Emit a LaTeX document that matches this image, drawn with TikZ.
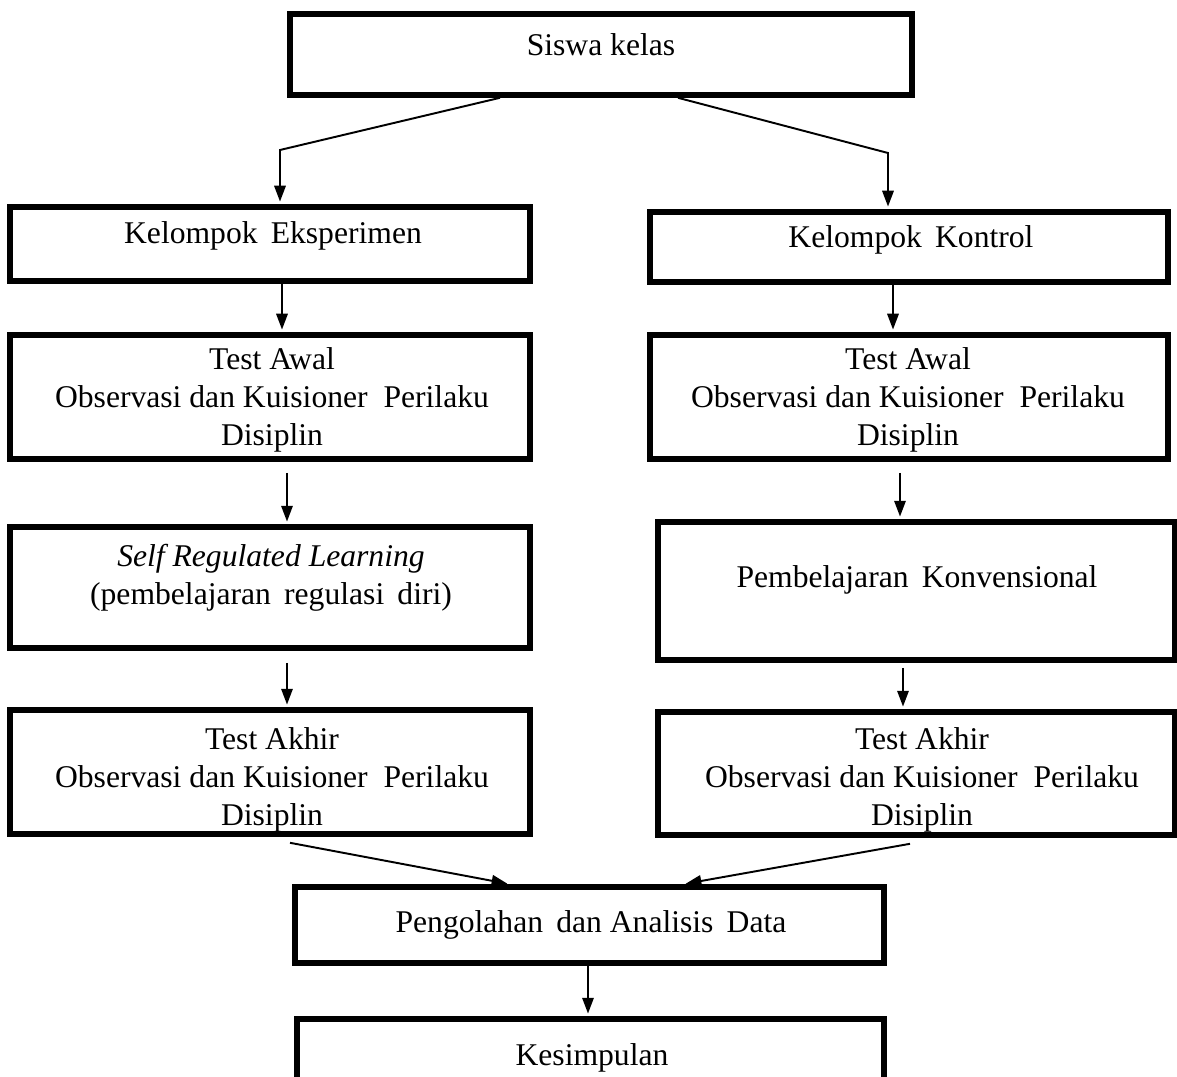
\documentclass[tikz,border=0pt]{standalone}
\usepackage{fontspec}
\setmainfont{Liberation Serif}
\usetikzlibrary{calc,arrows.meta,positioning}

\begin{document}
\begin{tikzpicture}[x=0.02cm, y=-0.02cm, >={Triangle[length=9pt,width=6.5pt]},
		kotak/.style={draw, line width=3.2pt, inner sep=0pt},
		teks/.style={align=center, inner sep=0pt, font=\fontsize{18}{21.6}\selectfont},
		panah/.style={->, line width=1.1pt, shorten >=1.5pt}]
		\useasboundingbox (0,0) rectangle (1177,1077);

		% Kotak-kotak
		\node[kotak, minimum width=12.44cm, minimum height=1.62cm] (siswa) at (601,54.5) {};
		\node[kotak, minimum width=10.4cm, minimum height=1.48cm] (eks) at (270,244) {};
		\node[kotak, minimum width=10.36cm, minimum height=1.4cm] (kontrol) at (909,247) {};
		\node[kotak, minimum width=10.4cm, minimum height=2.48cm] (awalL) at (270,397) {};
		\node[kotak, minimum width=10.36cm, minimum height=2.48cm] (awalR) at (909,397) {};
		\node[kotak, minimum width=10.4cm, minimum height=2.42cm] (srl) at (270,587.5) {};
		\node[kotak, minimum width=10.34cm, minimum height=2.76cm] (konv) at (916.5,591) {};
		\node[kotak, minimum width=10.4cm, minimum height=2.48cm] (akhirL) at (270,772) {};
		\node[kotak, minimum width=10.34cm, minimum height=2.46cm] (akhirR) at (916.5,773.5) {};
		\node[kotak, minimum width=11.78cm, minimum height=1.52cm] (olah) at (589.5,925) {};
		\node[kotak, minimum width=11.74cm, minimum height=1.82cm] (simpul) at (590.5,1064.5) {};

		% Teks
		\node[teks] (siswa-t) at (601,45) {Siswa kelas};
		\node[teks] (eks-t) at (273,236) {Kelompok\ \,Eksperimen};
		\node[teks] (kontrol-t) at (911,240) {Kelompok\ \,Kontrol};
		\node[teks] (awalL-t) at (272,400) {Test Awal\\Observasi dan Kuisioner\ \ Perilaku\\Disiplin};
		\node[teks] (awalR-t) at (908,400) {Test Awal\\Observasi dan Kuisioner\ \ Perilaku\\Disiplin};
		\node[teks] (srl-t) at (271,577.5) {\textit{Self Regulated Learning}\\(pembelajaran\ \,regulasi\ \,diri)};
		\node[teks] (konv-t) at (917,580) {Pembelajaran\ \,Konvensional};
		\node[teks] (akhirL-t) at (272,780) {Test Akhir\\Observasi dan Kuisioner\ \ Perilaku\\Disiplin};
		\node[teks] (akhirR-t) at (922,780) {Test Akhir\\Observasi dan Kuisioner\ \ Perilaku\\Disiplin};
		\node[teks] (olah-t) at (591,925) {Pengolahan\ \,dan Analisis\ \,Data};
		\node[teks] (simpul-t) at (592,1058) {Kesimpulan};

		% Titik tekuk
		\coordinate (tekukL) at (280,150);
		\coordinate (tekukR) at (888,153);

		% Panah
		\draw[panah] ($(siswa.south)+(-101,0)$) -- (tekukL) -- (tekukL |- eks.north);
		\draw[panah] ($(siswa.south)+(77,0)$) -- (tekukR) -- (tekukR |- kontrol.north);
		\draw[panah] ($(eks.south)+(12,0)$) coordinate (p1) -- (p1 |- awalL.north);
		\draw[panah] ($(kontrol.south)+(-16,0)$) coordinate (p2) -- (p2 |- awalR.north);
		\draw[panah] ($(awalL.south)+(17,11)$) coordinate (p3) -- (p3 |- srl.north);
		\draw[panah] ($(awalR.south)+(-9,11)$) coordinate (p4) -- (p4 |- konv.north);
		\draw[panah] ($(srl.south)+(17,12)$) coordinate (p5) -- (p5 |- akhirL.north);
		\draw[panah] ($(konv.south)+(-13.5,5)$) coordinate (p6) -- (p6 |- akhirR.north);
		\draw[panah] ($(akhirL.south)+(20,6)$) -- ($(olah.north)+(-79.5,0)$);
		\draw[panah] ($(akhirR.south)+(-6.5,6)$) -- ($(olah.north)+(93.5,0)$);
		\draw[panah] ($(olah.south)+(-1.5,0)$) coordinate (p7) -- (p7 |- simpul.north);

	\end{tikzpicture}
\end{document}
